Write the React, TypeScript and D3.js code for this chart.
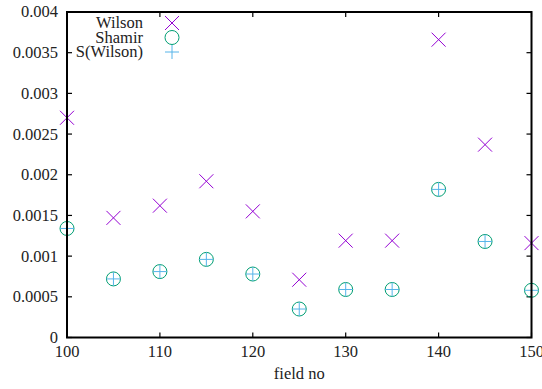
import React from "react";
import * as d3 from "d3";

const fields = [100, 105, 110, 115, 120, 125, 130, 135, 140, 145, 150];
const wilson = [0.0027, 0.00147, 0.00162, 0.00192, 0.00155, 0.00071, 0.00119, 0.00119, 0.00366, 0.00237, 0.00116];
const shamir = [0.00134, 0.00072, 0.00081, 0.00096, 0.00078, 0.00035, 0.00059, 0.00059, 0.00182, 0.00118, 0.00058];
const sWilson = [0.00134, 0.00072, 0.00081, 0.00096, 0.00078, 0.00035, 0.00059, 0.00059, 0.00182, 0.00118, 0.00058];
const xTicks = [100, 110, 120, 130, 140, 150];
const yTicks = [0, 0.0005, 0.001, 0.0015, 0.002, 0.0025, 0.003, 0.0035, 0.004];
const yTickLabels = ["0", "0.0005", "0.001", "0.0015", "0.002", "0.0025", "0.003", "0.0035", "0.004"];
const seriesNames = ["Wilson", "Shamir", "S(Wilson)"];
const colors = ["#9400d3", "#009e73", "#56b4e9"];

const W = 542, H = 389;
const L = 67, R = 531.5, T = 12, B = 337.5;
const font = "'Liberation Serif', serif";
const fs = 16.5;

function Marker({ kind, cx, cy, color }: { kind: number; cx: number; cy: number; color: string }) {
  const s = 7;
  if (kind === 0)
    return <path d={`M${cx - s},${cy - s}L${cx + s},${cy + s}M${cx - s},${cy + s}L${cx + s},${cy - s}`} stroke={color} strokeWidth={1} fill="none" />;
  if (kind === 1) return <circle cx={cx} cy={cy} r={s} stroke={color} strokeWidth={1} fill="none" />;
  return <path d={`M${cx - s},${cy}L${cx + s},${cy}M${cx},${cy - s}L${cx},${cy + s}`} stroke={color} strokeWidth={1} fill="none" />;
}

export default function App() {
  const x = d3.scaleLinear().domain([100, 150]).range([L, R]);
  const y = d3.scaleLinear().domain([0, 0.004]).range([B, T]);
  const series = [wilson, shamir, sWilson];
  return (
    <svg width={W} height={H} style={{ position: "absolute", left: 0, top: 0 }} fontFamily={font}>
      <rect width={W} height={H} fill="white" />
      {yTicks.map((t, i) => (
        <g key={"y" + i}>
          <line x1={L} x2={L + 5} y1={y(t)} y2={y(t)} stroke="black" strokeWidth={1.2} />
          <line x1={R} x2={R - 5} y1={y(t)} y2={y(t)} stroke="black" strokeWidth={1.2} />
          <text x={58} y={y(t)} dy="0.33em" textAnchor="end" fontSize={fs} fill="#222">{yTickLabels[i]}</text>
        </g>
      ))}
      {xTicks.map((t, i) => (
        <g key={"x" + i}>
          <line x1={x(t)} x2={x(t)} y1={B} y2={B - 5} stroke="black" strokeWidth={1.2} />
          <line x1={x(t)} x2={x(t)} y1={T} y2={T + 5} stroke="black" strokeWidth={1.2} />
          <text x={x(t)} y={357} textAnchor="middle" fontSize={fs} fill="#222">{t}</text>
        </g>
      ))}
      <text x={(L + R) / 2} y={379} textAnchor="middle" fontSize={fs} fill="#222">field no</text>
      {series.map((vals, k) =>
        vals.map((v, i) => <Marker key={k + "-" + i} kind={k} cx={x(fields[i])} cy={y(v)} color={colors[k]} />)
      )}
      {seriesNames.map((n, k) => (
        <g key={"l" + k}>
          <text x={143} y={23 + k * 14.5} dy="0.33em" textAnchor="end" fontSize={fs} fill="#222">{n}</text>
          <Marker kind={k} cx={172} cy={23 + k * 14.5} color={colors[k]} />
        </g>
      ))}
      <rect x={L} y={T} width={R - L} height={B - T} fill="none" stroke="black" strokeWidth={2} />
    </svg>
  );
}
